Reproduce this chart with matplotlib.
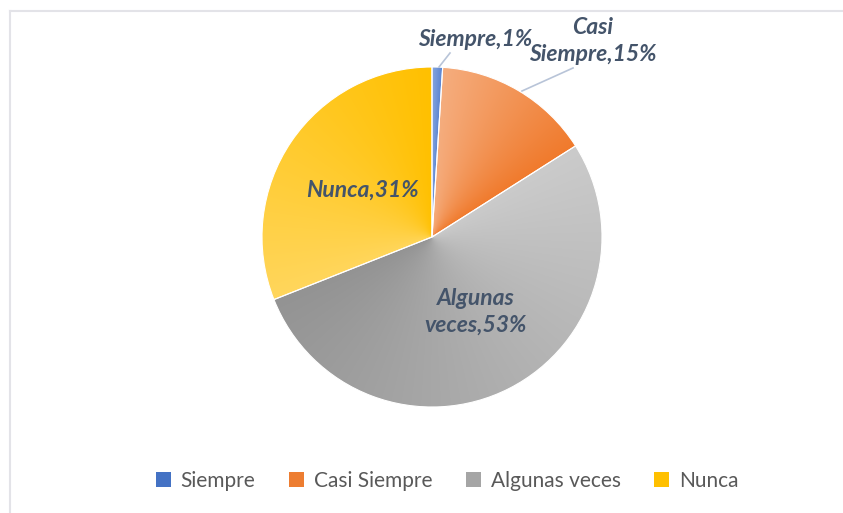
import numpy as np
import matplotlib
matplotlib.use("Agg")
import matplotlib.pyplot as plt
from matplotlib.patches import Patch
from matplotlib.lines import Line2D

categories = ["Siempre", "Casi Siempre", "Algunas veces", "Nunca"]
values = [1, 15, 53, 31]
label_texts = ["Siempre,1%", "Casi\nSiempre,15%", "Algunas\nveces,53%", "Nunca,31%"]
legend_colors = ["#4472c4", "#ed7d31", "#a5a5a5", "#ffc000"]
# light (start of wedge) -> dark (end of wedge)
grad_start = ["#86a5de", "#f5ad7e", "#cbcbcb", "#ffd65c"]
grad_end = ["#5a84d0", "#f07a2c", "#939393", "#ffc000"]

plt.rcParams["font.family"] = ["Lato", "DejaVu Sans"]

W, H = 843, 513
fig = plt.figure(figsize=(W / 100, H / 100), dpi=100)
ax = fig.add_axes([0, 0, 1, 1])

cx, cy, r = 432, H - 237, 170
wedges, _ = ax.pie(values, startangle=90, counterclock=False, center=(cx, cy),
                   radius=r, colors=legend_colors,
                   wedgeprops=dict(linewidth=0.8, edgecolor="white"))
ax.set_xlim(0, W)
ax.set_ylim(0, H)
ax.set_aspect("auto")
ax.axis("off")

# gradient fill per wedge (light at start, dark at clockwise end)
xs = np.linspace(cx - r, cx + r, 400)
ys = np.linspace(cy - r, cy + r, 400)
gx, gy = np.meshgrid(xs, ys)
cw = (90 - np.degrees(np.arctan2(gy - cy, gx - cx))) % 360
total = sum(values)
start = 0.0
for i, v in enumerate(values):
    span = v / total * 360
    t = np.clip((cw - start) / span, 0, 1)[..., None]
    c0 = np.array(matplotlib.colors.to_rgb(grad_start[i]))
    c1 = np.array(matplotlib.colors.to_rgb(grad_end[i]))
    img = c0 + (c1 - c0) * t
    im = ax.imshow(img, extent=(cx - r, cx + r, cy - r, cy + r), origin="lower",
                   interpolation="bilinear", zorder=1.5)
    im.set_clip_path(wedges[i])
    wedges[i].set_zorder(2)
    wedges[i].set_facecolor("none")
    start += span

lab_col = "#44546a"
lab_kw = dict(color=lab_col, fontsize=16.5, fontweight="bold", fontstyle="italic",
              ha="center", va="center", linespacing=1.3, zorder=5)
label_pos = [(475, H - 40), (593, H - 41), (476, H - 312), (362, H - 190)]
for txt, (x, y) in zip(label_texts, label_pos):
    ax.text(x, y, txt, **lab_kw)

# leader lines
ax.add_line(Line2D([450, 439], [H - 53, H - 67], color="#b8c4d8", lw=1.2, zorder=4))
ax.add_line(Line2D([573, 522], [H - 68, H - 91], color="#b8c4d8", lw=1.2, zorder=4))

# chart border
ax.add_line(Line2D([9.5, W], [H - 10.5, H - 10.5], color="#e3e3e8", lw=1.5))
ax.add_line(Line2D([9.5, 9.5], [0, H - 10.5], color="#e3e3e8", lw=1.5))

handles = [Patch(facecolor=c, edgecolor="none") for c in legend_colors]
leg = fig.legend(handles, categories, loc="center", bbox_to_anchor=(447 / W, 1 - 481 / H),
                 ncol=4, frameon=False, fontsize=15, handlelength=0.75, handleheight=0.75,
                 handletextpad=0.45, columnspacing=1.6)
for t in leg.get_texts():
    t.set_color("#595959")

fig.savefig("out.png", dpi=100)
